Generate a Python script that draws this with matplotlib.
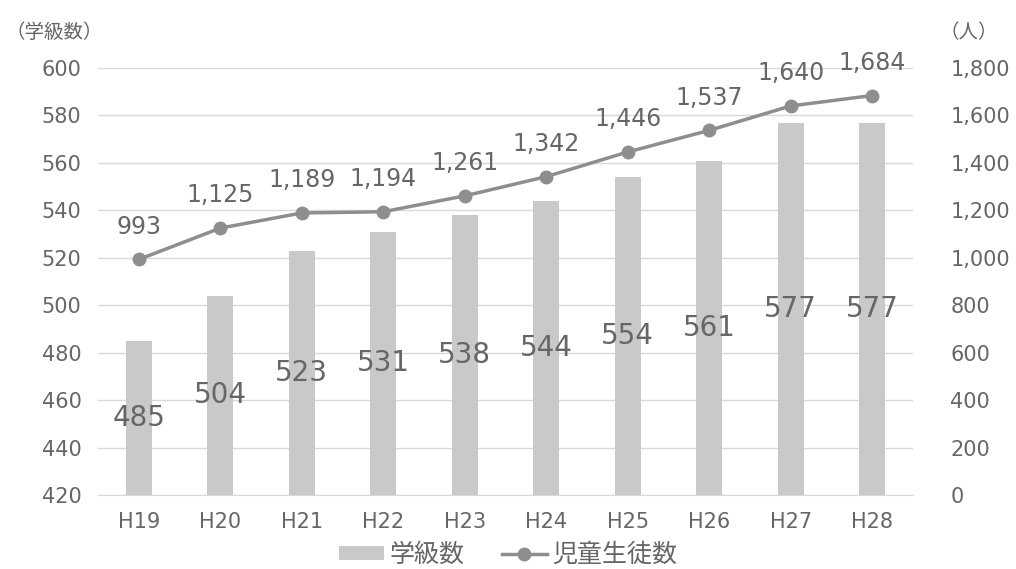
import matplotlib
matplotlib.use("Agg")
import matplotlib.pyplot as plt
from matplotlib.lines import Line2D
from matplotlib.patches import Patch

plt.rcParams['font.family'] = ['DejaVu Sans', 'Noto Sans CJK JP']

years = ["H19", "H20", "H21", "H22", "H23", "H24", "H25", "H26", "H27", "H28"]
classes = [485, 504, 523, 531, 538, 544, 554, 561, 577, 577]
students = [993, 1125, 1189, 1194, 1261, 1342, 1446, 1537, 1640, 1684]

bar_color = "#c9c9cb"
line_color = "#8e8e90"
text_color = "#666666"
grid_color = "#d9d9d9"

fig = plt.figure(figsize=(10.16, 5.69), dpi=100)
ax = fig.add_axes([0.0965, 0.130, 0.802, 0.7505])
ax2 = ax.twinx()

x = list(range(len(years)))
ax.bar(x, [c - 420 for c in classes], bottom=420, width=0.32, color=bar_color, zorder=2)
ax.set_ylim(420, 600)
ax.set_yticks(range(420, 601, 20))
ax.set_xlim(-0.5, len(years) - 0.5)
ax.set_xticks(x)
ax.set_xticklabels(years)
ax.grid(axis='y', color=grid_color, linewidth=1, zorder=0)
ax.set_axisbelow(True)

for xi, c in zip(x, classes):
    ax.text(xi, (420 + c) / 2, f"{c}", ha='center', va='center', fontsize=20,
            color=text_color, zorder=5)

ax2.plot(x, students, color=line_color, linewidth=2.5, marker='o', markersize=9, zorder=4)
ax2.set_ylim(0, 1800)
ax2.set_yticks(range(0, 1801, 200))
ax2.set_yticklabels([f"{v:,}" for v in range(0, 1801, 200)])
for xi, s in zip(x, students):
    ax2.annotate(f"{s:,}", (xi, s), xytext=(0, 15), textcoords='offset points',
                 ha='center', va='bottom', fontsize=17, color=text_color)

for a in (ax, ax2):
    for sp in a.spines.values():
        sp.set_visible(False)
    a.tick_params(length=0, labelsize=15, colors=text_color)
ax.tick_params(axis='y', pad=12)
ax2.tick_params(axis='y', pad=27)
ax.tick_params(axis='x', pad=12)
ax.spines['bottom'].set_visible(True)
ax.spines['bottom'].set_color(grid_color)

fig.text(0.005, 0.943, "（学級数）", fontsize=14, color=text_color, ha='left', va='center')
fig.text(0.925, 0.943, "（人）", fontsize=14, color=text_color, ha='left', va='center')

handles = [Patch(facecolor=bar_color, edgecolor='none'),
           Line2D([0], [0], color=line_color, linewidth=2.5, marker='o', markersize=9)]
fig.legend(handles, ["学級数", "児童生徒数"], loc='center', bbox_to_anchor=(0.5, 0.025),
           ncol=2, frameon=False, fontsize=18, labelcolor=text_color,
           handlelength=1.8, handleheight=0.5, handletextpad=0.2, columnspacing=1.5)

fig.savefig("out.png", dpi=100)
